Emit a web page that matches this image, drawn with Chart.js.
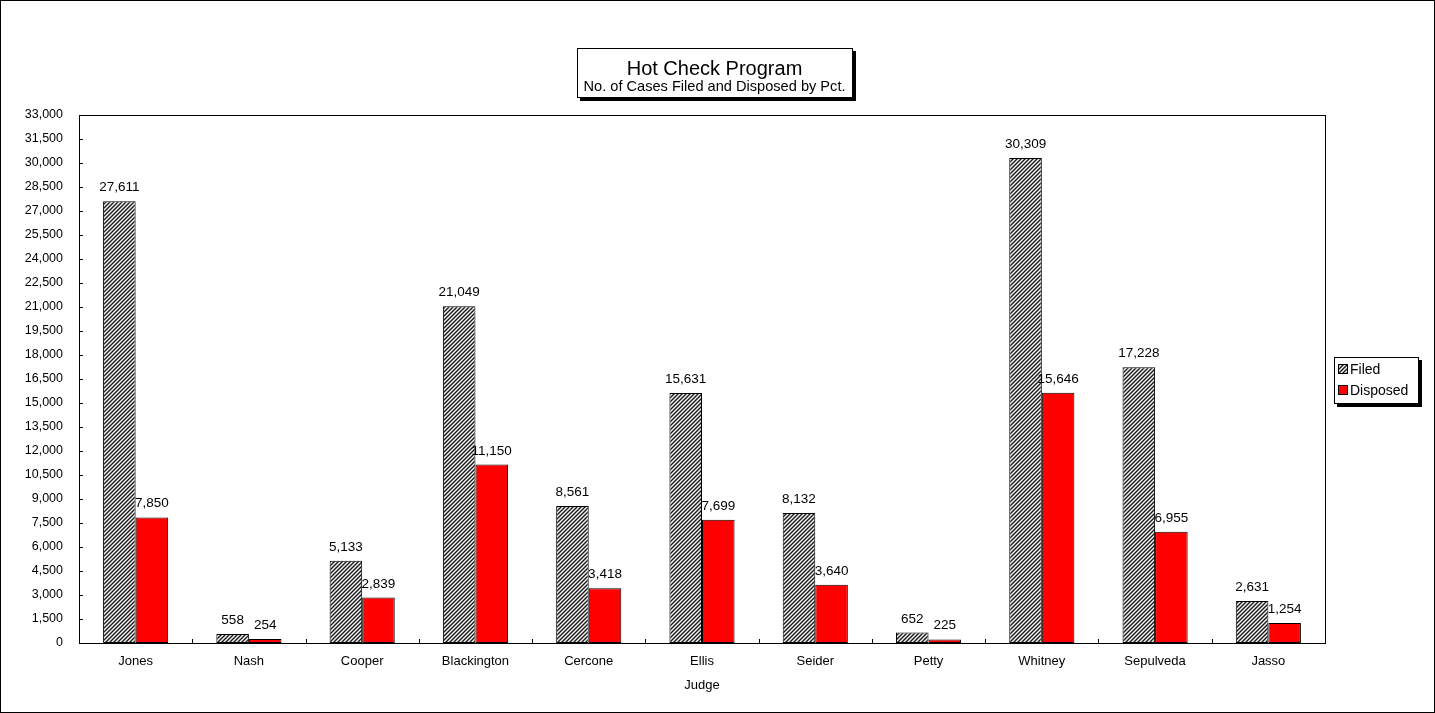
<!DOCTYPE html>
<html><head><meta charset="utf-8">
<script src="https://cdn.jsdelivr.net/npm/chart.js@4/dist/chart.umd.min.js"></script>
<style>html,body{margin:0;padding:0;background:#fff}#wrap{width:1435px;height:713px}canvas{display:block}</style>
</head><body><div id="wrap"><canvas id="c" width="1435" height="713"></canvas></div>
<script>
const judges = ["Jones","Nash","Cooper","Blackington","Cercone","Ellis","Seider","Petty","Whitney","Sepulveda","Jasso"];
const filed = [27611, 558, 5133, 21049, 8561, 15631, 8132, 652, 30309, 17228, 2631];
const disposed = [7850, 254, 2839, 11150, 3418, 7699, 3640, 225, 15646, 6955, 1254];
const seriesNames = ["Filed", "Disposed"];
const titleText = "Hot Check Program";
const subtitleText = "No. of Cases Filed and Disposed by Pct.";
const xTitle = "Judge";
const yMin = 0, yMax = 33000, yStep = 1500;

const FONT = '"Liberation Sans", Arial, sans-serif';
const canvas = document.getElementById('c');
const ctx = canvas.getContext('2d');

function makeHatch() {
  const c = document.createElement('canvas');
  c.width = 4; c.height = 4;
  const x = c.getContext('2d');
  x.fillStyle = '#f4f4f4';
  x.fillRect(0, 0, 4, 4);
  x.strokeStyle = '#1a1a1a';
  x.lineWidth = 1.4;
  x.beginPath();
  x.moveTo(0, 4); x.lineTo(4, 0);
  x.moveTo(-1, 1); x.lineTo(1, -1);
  x.moveTo(3, 5); x.lineTo(5, 3);
  x.stroke();
  return ctx.createPattern(c, 'repeat');
}
const hatch = makeHatch();
const fmt = v => v.toLocaleString('en-US');

const decor = {
  id: 'decor',
  beforeDraw(chart) {
    const c = chart.ctx;
    c.save();
    c.fillStyle = '#fff';
    c.fillRect(0, 0, chart.width, chart.height);
    c.restore();
  },
  afterDatasetsDraw(chart) {
    const c = chart.ctx;
    const a = chart.chartArea;
    c.save();
    c.strokeStyle = '#000';
    c.lineWidth = 1;
    c.strokeRect(Math.round(a.left) + 0.5, Math.round(a.top) + 0.5, Math.round(a.right - a.left), Math.round(a.bottom - a.top));
    const ys = chart.scales.y;
    c.beginPath();
    ys.ticks.forEach(t => {
      const py = Math.round(ys.getPixelForValue(t.value)) + 0.5;
      c.moveTo(a.left, py); c.lineTo(a.left + 4, py);
    });
    const n = judges.length;
    const w = (a.right - a.left) / n;
    for (let i = 1; i < n; i++) {
      const px = Math.round(a.left + i * w) + 0.5;
      c.moveTo(px, a.bottom); c.lineTo(px, a.bottom - 4);
    }
    c.stroke();
    c.fillStyle = '#000';
    c.font = '13.5px ' + FONT;
    c.textAlign = 'center';
    c.textBaseline = 'bottom';
    chart.data.datasets.forEach((ds, di) => {
      const meta = chart.getDatasetMeta(di);
      meta.data.forEach((bar, i) => {
        c.fillText(fmt(ds.data[i]), bar.x, bar.y - 7);
      });
    });
    c.strokeRect(0.5, 0.5, chart.width - 1, chart.height - 1);
    const tb = {x: 577, y: 48, w: 275, h: 49};
    c.fillStyle = '#000';
    c.fillRect(tb.x + 3, tb.y + 3, tb.w + 1, tb.h + 1);
    c.fillStyle = '#fff';
    c.fillRect(tb.x, tb.y, tb.w, tb.h);
    c.strokeRect(tb.x + 0.5, tb.y + 0.5, tb.w, tb.h);
    c.fillStyle = '#000';
    c.textBaseline = 'middle';
    c.font = '20px ' + FONT;
    c.fillText(titleText, tb.x + tb.w / 2, 69);
    c.font = '14.6px ' + FONT;
    c.fillText(subtitleText, tb.x + tb.w / 2, 87);
    const lb = {x: 1334, y: 357, w: 84, h: 46};
    c.fillStyle = '#000';
    c.fillRect(lb.x + 3, lb.y + 3, lb.w + 1, lb.h + 1);
    c.fillStyle = '#fff';
    c.fillRect(lb.x, lb.y, lb.w, lb.h);
    c.strokeRect(lb.x + 0.5, lb.y + 0.5, lb.w, lb.h);
    const fills = [hatch, '#ff0000'];
    c.textAlign = 'left';
    c.font = '14px ' + FONT;
    seriesNames.forEach((name, i) => {
      const cy = 369 + i * 21;
      c.fillStyle = fills[i];
      c.fillRect(lb.x + 4, cy - 5, 9, 9);
      c.strokeStyle = '#000';
      c.strokeRect(lb.x + 4.5, cy - 4.5, 9, 9);
      c.fillStyle = '#000';
      c.fillText(name, lb.x + 16, cy + 1);
    });
    c.restore();
  }
};

new Chart(canvas, {
  type: 'bar',
  data: {
    labels: judges,
    datasets: [
      {label: seriesNames[0], data: filed, backgroundColor: hatch, borderColor: '#000', borderWidth: 1, borderSkipped: false},
      {label: seriesNames[1], data: disposed, backgroundColor: '#ff0000', borderColor: '#000', borderWidth: 1, borderSkipped: false}
    ]
  },
  options: {
    responsive: false,
    devicePixelRatio: 1,
    animation: false,
    layout: {padding: {left: 0, right: 110, top: 115, bottom: 0}},
    datasets: {bar: {categoryPercentage: 0.575, barPercentage: 1.0}},
    plugins: {legend: {display: false}, title: {display: false}, tooltip: {enabled: false}},
    scales: {
      x: {
        grid: {display: false, drawTicks: false},
        border: {display: false},
        ticks: {color: '#000', font: {family: FONT, size: 13}, padding: 11, maxRotation: 0, autoSkip: false},
        title: {display: true, text: xTitle, color: '#000', font: {family: FONT, size: 13}, padding: {top: 0, bottom: 20}},
        afterFit(s) { s.height = 70; }
      },
      y: {
        min: yMin, max: yMax,
        grid: {display: false, drawTicks: false},
        border: {display: false},
        ticks: {stepSize: yStep, color: '#000', font: {family: FONT, size: 12.5}, padding: 16, callback: v => fmt(v)},
        afterFit(s) { s.width = 79; }
      }
    }
  },
  plugins: [decor]
});
</script>
</body></html>
